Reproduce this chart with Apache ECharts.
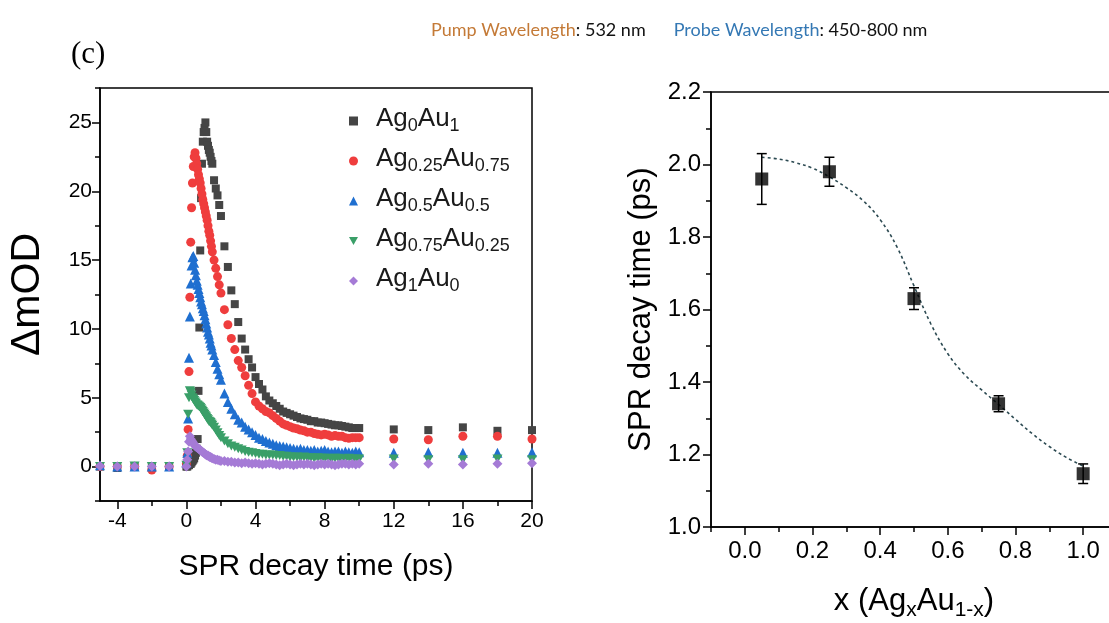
<!DOCTYPE html>
<html><head><meta charset="utf-8">
<script src="https://cdn.jsdelivr.net/npm/echarts@6/dist/echarts.min.js"></script>
<style>html,body{margin:0;padding:0;background:#fff}#c{width:1109px;height:623px}</style>
</head><body><div id="c"></div>
<script>
// ---------- Left panel: transient ΔmOD vs delay time ----------
const times = [-5,-4,-3,-2,-1,
  0,0.05,0.1,0.15,0.2,0.25,0.3,0.35,0.4,0.45,0.5,0.55,0.6,0.65,0.7,0.75,0.8,0.85,0.9,0.95,1.0,1.05,1.1,1.15,1.2,1.25,1.3,1.35,1.4,1.45,1.5,
  1.6,1.7,1.8,1.9,2.0,
  2.2,2.4,2.6,2.8,3.0,3.2,3.4,3.6,3.8,4.0,4.2,4.4,4.6,4.8,5.0,5.2,5.4,5.6,5.8,6.0,6.2,6.4,6.6,6.8,7.0,7.2,7.4,7.6,7.8,8.0,8.2,8.4,8.6,8.8,9.0,9.2,9.4,9.6,9.8,10.0,
  12,14,16,18,20];

const ag0au1 = [0.0,-0.1,0.0,0.0,0.0,
  0.0,0.0,0.1,0.1,0.2,0.2,0.3,0.4,0.5,0.6,0.8,1.0,1.3,2.0,5.5,10.1,15.7,19.5,22.0,23.6,24.3,24.6,25.0,24.3,23.6,23.3,23.0,22.8,22.5,22.2,22.0,
  20.8,20.2,19.7,19.0,18.2,
  16.0,14.5,12.8,11.8,10.5,9.3,8.5,7.8,7.2,6.5,6.0,5.6,5.1,4.8,4.6,4.4,4.2,4.0,3.9,3.8,3.7,3.6,3.5,3.45,3.4,3.3,3.3,3.2,3.2,3.15,3.1,3.05,3.0,3.0,2.95,2.9,2.85,2.8,2.8,2.8,
  2.7,2.65,2.85,2.6,2.65];

const ag025au075 = [0.0,0.0,0.0,-0.25,0.0,
  0.2,0.8,2.7,6.9,12.3,16.3,18.8,20.6,21.8,22.5,22.8,22.4,22.0,21.6,21.2,20.9,20.6,20.2,19.8,19.4,19.1,18.8,18.5,18.2,17.9,17.5,17.1,16.8,16.4,16.0,15.6,
  15.0,14.4,13.8,13.2,12.6,
  11.4,10.3,9.3,8.5,7.7,7.2,6.6,5.9,5.3,4.7,4.4,4.2,4.0,3.9,3.7,3.5,3.3,3.1,3.0,2.9,2.8,2.75,2.65,2.6,2.5,2.5,2.4,2.35,2.3,2.35,2.3,2.2,2.25,2.2,2.2,2.1,2.05,2.1,2.1,2.1,
  2.0,1.95,2.2,2.2,2.0];

const ag05au05 = [0.1,0.0,0.0,0.0,0.0,
  0.3,1.0,3.5,7.9,10.9,13.3,14.6,15.2,15.3,14.8,14.3,13.9,13.5,13.2,12.9,12.6,12.3,12.0,11.8,11.5,11.3,11.0,10.7,10.4,10.1,9.8,9.6,9.3,9.0,8.8,8.5,
  8.1,7.6,7.1,6.7,6.3,
  5.3,4.7,4.2,3.8,3.4,3.2,2.9,2.7,2.5,2.3,2.1,2.0,1.85,1.75,1.65,1.55,1.5,1.45,1.4,1.35,1.3,1.25,1.3,1.2,1.2,1.15,1.2,1.1,1.15,1.2,1.1,1.05,1.1,1.1,1.0,1.1,1.05,1.0,1.1,1.05,
  1.0,1.05,1.0,1.0,1.05];

const ag075au025 = [0.0,0.0,0.05,0.0,0.0,
  0.1,1.0,3.8,5.0,5.5,5.4,5.2,5.0,4.9,4.8,4.7,4.6,4.5,4.45,4.4,4.35,4.3,4.2,4.1,4.0,3.9,3.8,3.7,3.6,3.5,3.4,3.3,3.25,3.2,3.1,3.0,
  2.85,2.65,2.45,2.25,2.1,
  1.85,1.65,1.5,1.4,1.3,1.2,1.1,1.05,1.0,0.95,0.9,0.9,0.85,0.85,0.85,0.8,0.8,0.75,0.75,0.7,0.7,0.7,0.65,0.7,0.65,0.65,0.6,0.65,0.6,0.6,0.6,0.55,0.6,0.6,0.55,0.55,0.6,0.55,0.55,0.55,
  0.55,0.5,0.5,0.55,0.5];

const ag1au0 = [0.05,0.0,0.0,0.0,0.0,
  0.0,0.5,1.1,1.8,2.2,2.0,1.9,1.8,1.7,1.6,1.5,1.45,1.4,1.35,1.3,1.25,1.2,1.15,1.1,1.05,1.0,0.95,0.9,0.85,0.8,0.8,0.75,0.7,0.7,0.65,0.6,
  0.55,0.5,0.5,0.45,0.4,
  0.4,0.35,0.35,0.3,0.3,0.25,0.3,0.25,0.2,0.25,0.2,0.15,0.2,0.25,0.2,0.15,0.1,0.15,0.2,0.15,0.1,0.15,0.2,0.15,0.2,0.15,0.1,0.15,0.2,0.15,0.2,0.15,0.1,0.15,0.2,0.2,0.15,0.2,0.15,0.2,
  0.15,0.2,0.15,0.2,0.25];

const seriesNames = ['Ag0Au1','Ag0.25Au0.75','Ag0.5Au0.5','Ag0.75Au0.25','Ag1Au0'];
const legendLabels = ['{n|Ag}{s|0}{n|Au}{s|1}','{n|Ag}{s|0.25}{n|Au}{s|0.75}','{n|Ag}{s|0.5}{n|Au}{s|0.5}','{n|Ag}{s|0.75}{n|Au}{s|0.25}','{n|Ag}{s|1}{n|Au}{s|0}'];
const timeTicks = [-4,0,4,8,12,16,20];
const timeMinor = [-2,2,6,10,14,18];
const modTicks = [0,5,10,15,20,25];

// ---------- Right panel: SPR decay time vs composition ----------
const xComp = [0.05,0.25,0.5,0.75,1.0];
const decayTime = [1.96,1.98,1.63,1.34,1.147];
const decayErr = [0.07,0.04,0.03,0.022,0.027];
const fitX = [0.05,0.1,0.15,0.2,0.25,0.3,0.35,0.4,0.45,0.5,0.55,0.6,0.65,0.7,0.75,0.8,0.85,0.9,0.95,1.0];
const fitY = [2.02,2.015,2.005,1.99,1.966,1.936,1.9,1.848,1.772,1.665,1.56,1.478,1.42,1.378,1.338,1.297,1.257,1.222,1.192,1.168];
const compTicks = [0,0.2,0.4,0.6,0.8,1.0];

const colors = ['#454545','#ef3d3d','#1f6fd0','#3a9f68','#a57bd6'];
const symbols = ['rect','circle','triangle','path://M0,0 L10,0 L5,9 Z','diamond'];
const symSizes = [8,9,10,[10,9],10];
const allVals = [ag0au1, ag025au075, ag05au05, ag075au025, ag1au0];

const FONT = 'Liberation Sans, Arial, sans-serif';
const black = '#000';
const HFONT = 'Lato, sans-serif';
const LW = 1.5;

function baseAxis(extra){
  return Object.assign({
    type:'value', splitLine:{show:false},
    axisLine:{show:true, onZero:false, lineStyle:{color:black,width:LW}},
    axisTick:{show:false}, axisLabel:{show:false}
  }, extra);
}
const hiddenLine = {show:false, onZero:false};

const chart = echarts.init(document.getElementById('c'), null, {renderer:'canvas'});
const option = {
  animation:false,
  backgroundColor:'#fff',
  title:[
    {text:'{o|Pump Wavelength}{k|: 532 nm}{g|}{b|Probe Wavelength}{k|: 450-800 nm}',
     left:426, top:16,
     textStyle:{fontWeight:'normal', rich:{
       o:{color:'#c47a37',fontFamily:HFONT,fontSize:18,fontWeight:'normal'},
       b:{color:'#3478b4',fontFamily:HFONT,fontSize:18,fontWeight:'normal'},
       k:{color:'#111',fontFamily:HFONT,fontSize:18,fontWeight:'normal'},
       g:{width:28}
     }}},
    {text:'(c)', left:66, top:34, textStyle:{fontFamily:'Liberation Serif, Times New Roman, serif', fontSize:31, fontWeight:'normal', color:'#000'}}
  ],
  legend:{
    orient:'vertical', left:344, top:101, itemWidth:9, itemHeight:9, itemGap:11,
    data:seriesNames,
    formatter:(name)=>'{sp|}' + legendLabels[seriesNames.indexOf(name)],
    textStyle:{color:'#1a1a1a', fontFamily:FONT, rich:{
      sp:{width:13},
      n:{fontSize:26, lineHeight:28, verticalAlign:'bottom', padding:[0,0,3,0], fontFamily:FONT, color:'#1a1a1a'},
      s:{fontSize:18, lineHeight:18, verticalAlign:'bottom', fontFamily:FONT, color:'#1a1a1a'}
    }}
  },
  grid:[
    {left:100, top:88, width:432, height:413, containLabel:false, outerBoundsMode:'none',
     show:true, borderColor:black, borderWidth:LW, backgroundColor:'transparent'},
    {left:711, top:92, width:406, height:435, containLabel:false, outerBoundsMode:'none',
     show:true, borderColor:black, borderWidth:LW, backgroundColor:'transparent'}
  ],
  xAxis:[
    baseAxis({gridIndex:0, position:'bottom', min:-5, max:20,
      axisTick:{show:true, customValues:timeTicks, length:8, lineStyle:{color:black,width:LW}},
      axisLabel:{show:true, customValues:timeTicks, fontSize:21, color:black, fontFamily:FONT, margin:10},
      name:'SPR decay time (ps)', nameLocation:'middle', nameGap:51,
      nameTextStyle:{fontSize:30, color:black, fontFamily:FONT}}),
    baseAxis({gridIndex:0, position:'bottom', min:-5, max:20, axisLine:hiddenLine,
      axisTick:{show:true, customValues:timeMinor, length:5, lineStyle:{color:black,width:LW}}}),
    // right panel x: scale ticks every 0.2 from -0.1 give the short ticks, minor ticks give the long ones
    baseAxis({gridIndex:1, position:'bottom', min:-0.1, max:1.1, interval:0.2,
      axisTick:{show:true, length:5, lineStyle:{color:black,width:LW}},
      minorTick:{show:true, splitNumber:2, length:8, lineStyle:{color:black,width:LW}},
      axisLabel:{show:true, customValues:compTicks, fontSize:24, color:black, fontFamily:FONT, margin:12, formatter:(v)=>v.toFixed(1)},
      name:'{n|x (Ag}{s|x}{n|Au}{s|1-x}{n|)}', nameLocation:'middle', nameGap:60,
      nameTextStyle:{rich:{
        n:{fontSize:31, lineHeight:34, verticalAlign:'bottom', padding:[0,0,4,0], color:black, fontFamily:FONT},
        s:{fontSize:21, lineHeight:21, verticalAlign:'bottom', color:black, fontFamily:FONT}
      }}})
  ],
  yAxis:[
    // left panel y: scale ticks every 5 from -2.5 give the short ticks, minor ticks give the long ones
    baseAxis({gridIndex:0, position:'left', min:-2.5, max:27.5, interval:5,
      axisTick:{show:true, length:5, lineStyle:{color:black,width:LW}},
      minorTick:{show:true, splitNumber:2, length:8, lineStyle:{color:black,width:LW}},
      axisLabel:{show:true, customValues:modTicks, fontSize:21, color:black, fontFamily:FONT, margin:8},
      name:'ΔmOD', nameLocation:'middle', nameGap:52,
      nameTextStyle:{fontSize:41, color:black, fontFamily:FONT}}),
    baseAxis({gridIndex:1, position:'left', min:1.0, max:2.2, interval:0.2,
      axisTick:{show:true, length:8, lineStyle:{color:black,width:LW}},
      minorTick:{show:true, splitNumber:2, length:5, lineStyle:{color:black,width:LW}},
      axisLabel:{show:true, fontSize:24, color:black, fontFamily:FONT, margin:10, formatter:(v)=>v.toFixed(1)},
      name:'SPR decay time (ps)', nameLocation:'middle', nameGap:54,
      nameTextStyle:{fontSize:31, color:black, fontFamily:FONT}})
  ],
  series:[]
};

allVals.forEach((vals,k)=>{
  option.series.push({
    type:'scatter', name:seriesNames[k], xAxisIndex:0, yAxisIndex:0,
    symbol:symbols[k], symbolSize:symSizes[k],
    itemStyle:{color:colors[k], opacity:1},
    data:times.map((t,i)=>[t, vals[i]])
  });
});

option.series.push({
  type:'line', name:'fit', xAxisIndex:2, yAxisIndex:1, smooth:0.4, showSymbol:false, symbol:'none',
  lineStyle:{color:'#2c4a52', width:1.6, type:[3,3]},
  data:fitX.map((x,i)=>[x, fitY[i]]), z:1
});
option.series.push({
  type:'custom', name:'err', xAxisIndex:2, yAxisIndex:1,
  renderItem:(params, api)=>{
    const x = api.value(0), y = api.value(1), e = api.value(2);
    const top = api.coord([x, y+e]), bot = api.coord([x, y-e]);
    const w = 5, st = {stroke:'#000', lineWidth:1.5};
    return {type:'group', children:[
      {type:'line', shape:{x1:top[0],y1:top[1],x2:bot[0],y2:bot[1]}, style:st},
      {type:'line', shape:{x1:top[0]-w,y1:top[1],x2:top[0]+w,y2:top[1]}, style:st},
      {type:'line', shape:{x1:bot[0]-w,y1:bot[1],x2:bot[0]+w,y2:bot[1]}, style:st}
    ]};
  },
  encode:{x:0, y:1},
  data:xComp.map((x,i)=>[x, decayTime[i], decayErr[i]]), z:2
});
option.series.push({
  type:'scatter', name:'decay', xAxisIndex:2, yAxisIndex:1,
  symbol:'rect', symbolSize:13, itemStyle:{color:'#000'},
  data:xComp.map((x,i)=>[x, decayTime[i]]), z:3
});

chart.setOption(option);
</script></body></html>
